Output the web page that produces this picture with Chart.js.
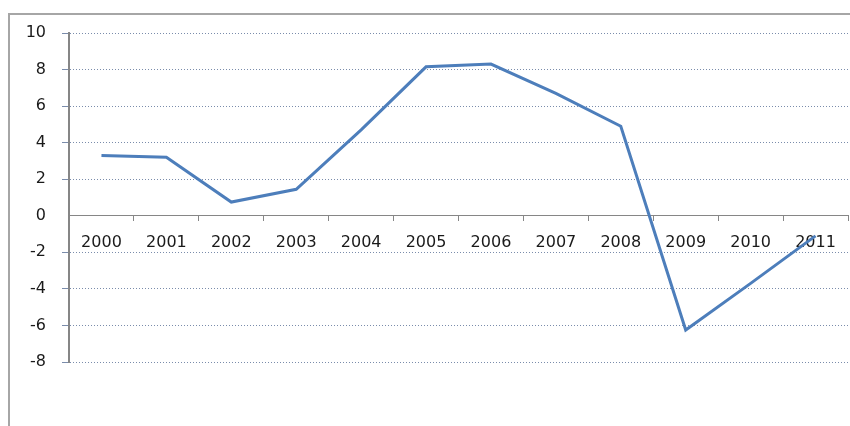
<!DOCTYPE html>
<html>
<head>
<meta charset="utf-8">
<script src="https://cdn.jsdelivr.net/npm/chart.js@4.4.1/dist/chart.umd.min.js"></script>
<style>
  body { margin: 0; background: #fff; }
  #frame {
    position: absolute; left: 8px; top: 13px;
    width: 900px; height: 500px;
    border: 2px solid #a6a6a6;
  }
  #wrap { position: absolute; left: 0; top: 0; width: 850px; height: 426px; }
</style>
</head>
<body>
<div id="frame"></div>
<div id="wrap"><canvas id="growth-chart"></canvas></div>
<script>
// Annual values
const years = ["2000", "2001", "2002", "2003", "2004", "2005", "2006", "2007", "2008", "2009", "2010", "2011"];
const growth = [3.3, 3.2, 0.75, 1.45, 4.7, 8.15, 8.3, 6.7, 4.9, -6.25, -3.7, -1.1];
const yTicks = [-8, -6, -4, -2, 0, 2, 4, 6, 8, 10];

const ctx = document.getElementById("growth-chart").getContext("2d");
new Chart(ctx, {
  type: "line",
  data: {
    labels: years,
    datasets: [
      {
        data: growth,
        borderColor: "#4d7ebb",
        borderWidth: 3,
        pointRadius: 0,
        tension: 0,
        fill: false,
      },
    ],
  },
  options: {
    responsive: true,
    maintainAspectRatio: false,
    animation: false,
    layout: { padding: { top: 33, right: 2, bottom: 64, left: 0 } },
    plugins: {
      legend: { display: false },
      tooltip: { enabled: false },
    },
    scales: {
      x: {
        type: "category",
        position: { y: 0 },
        offset: true,
        grid: {
          offset: true,
          drawOnChartArea: false,
          drawTicks: true,
          tickLength: 5,
          color: "#868686",
        },
        border: { display: true, color: "#868686", width: 1 },
        ticks: {
          color: "#1a1a1a",
          font: { family: "DejaVu Sans", size: 16 },
          padding: 12,
          maxRotation: 0,
          autoSkip: false,
        },
      },
      y: {
        min: -8,
        max: 10,
        afterBuildTicks: (scale) => {
          scale.ticks = yTicks.map((v) => ({ value: v }));
        },
        afterFit: (scale) => {
          scale.width = 69;
        },
        grid: {
          color: (c) => (c.tick && c.tick.value === 0 ? "rgba(0,0,0,0)" : "#7a8cab"),
          lineWidth: 1,
          tickLength: 7,
        },
        border: { display: true, color: "#868686", width: 2, dash: [1, 2] },
        ticks: {
          color: "#1a1a1a",
          font: { family: "DejaVu Sans", size: 16 },
          padding: 16,
        },
      },
    },
  },
});
</script>
</body>
</html>
